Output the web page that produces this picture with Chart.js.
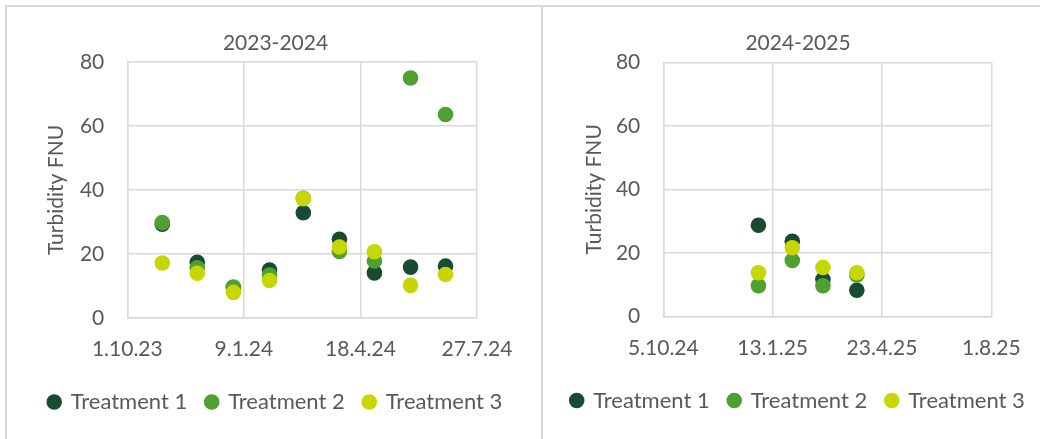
<!DOCTYPE html>
<html>
<head>
<meta charset="utf-8">
<script src="https://cdn.jsdelivr.net/npm/chart.js@4.4.1/dist/chart.umd.min.js"></script>
<style>
  html, body { margin: 0; padding: 0; background: #fff; overflow: hidden; }
  .box { position: absolute; top: 5px; height: 440px; border-top: 2px solid #d9d9d9; border-left: 2px solid #d9d9d9; }
  .wrap { position: absolute; top: 1px; }
</style>
</head>
<body>
<div class="box" style="left:5px; width:536px;">
  <div class="wrap" style="left:1px; width:535px; height:431px;"><canvas id="c1"></canvas></div>
</div>
<div class="box" style="left:541px; width:520px;">
  <div class="wrap" style="left:2px; width:506px; height:431px;"><canvas id="c2"></canvas></div>
</div>
<script>
// sampling dates (month ends) and turbidity readings, FNU
const dates2324 = ['2023-10-31', '2023-11-30', '2023-12-31', '2024-01-31', '2024-02-29',
  '2024-03-31', '2024-04-30', '2024-05-31', '2024-06-30'];
const t1_2324 = [29.3, 17.4, 9.5, 15.0, 32.9, 24.6, 14.1, 15.9, 16.2];
const t2_2324 = [29.8, 15.7, 9.7, 13.4, 37.4, 20.8, 17.8, 75.0, 63.6];
const t3_2324 = [17.2, 14.0, 8.0, 11.7, 37.3, 22.2, 20.7, 10.2, 13.6];

const dates2425 = ['2024-12-31', '2025-01-31', '2025-02-28', '2025-03-31'];
const t1_2425 = [28.7, 23.6, 11.6, 8.2];
const t2_2425 = [9.6, 17.6, 9.6, 13.0];
const t3_2425 = [13.7, 21.6, 15.4, 13.7];

// x axis ranges (first and last tick)
const range2324 = ['2023-10-01', '2024-07-27'];
const range2425 = ['2024-10-05', '2025-08-01'];

const seriesNames = ['Treatment 1', 'Treatment 2', 'Treatment 3'];
const seriesColors = ['#184a34', '#4fa031', '#c8d600'];

const FONT = 'Lato, "Open Sans", sans-serif';
const TEXT = '#595959';
const GRID = '#d9d9d9';

// Excel style day serial, so the 100-day tick spacing lines up
function serial(s) {
  const p = s.split('-');
  return Date.UTC(+p[0], +p[1] - 1, +p[2]) / 86400000 + 25569;
}
function fmtDate(v) {
  const d = new Date((v - 25569) * 86400000);
  return d.getUTCDate() + '.' + (d.getUTCMonth() + 1) + '.' + String(d.getUTCFullYear()).slice(2);
}

function makeChart(id, title, dates, series, range, lay) {
  const xs = dates.map(serial);
  const datasets = series.map(function (vals, i) {
    return {
      label: seriesNames[i],
      data: vals.map(function (v, j) { return { x: xs[j], y: v }; }),
      backgroundColor: seriesColors[i],
      borderColor: seriesColors[i],
      borderWidth: 0,
      pointRadius: 7.8,
      pointHoverRadius: 7.8,
      order: series.length - i
    };
  });

  new Chart(document.getElementById(id), {
    type: 'scatter',
    data: { datasets: datasets },
    options: {
      responsive: true,
      maintainAspectRatio: false,
      animation: false,
      layout: { padding: { left: 0, right: 0, top: 0, bottom: lay.bottom } },
      plugins: {
        tooltip: { enabled: false },
        title: {
          display: true,
          text: title,
          color: TEXT,
          font: { family: FONT, size: 21, weight: 'normal' },
          padding: { top: 22.4, bottom: lay.titleBottom }
        },
        legend: {
          position: 'bottom',
          labels: {
            usePointStyle: true,
            pointStyle: 'circle',
            boxWidth: 11,
            boxHeight: 11,
            padding: 19,
            color: TEXT,
            font: { family: FONT, size: 22 },
            sort: function (a, b) { return a.datasetIndex - b.datasetIndex; }
          }
        }
      },
      scales: {
        x: {
          type: 'linear',
          min: serial(range[0]),
          max: serial(range[1]),
          ticks: {
            stepSize: 100,
            color: TEXT,
            font: { family: FONT, size: 21 },
            padding: 19,
            maxRotation: 0,
            callback: function (v) { return fmtDate(v); }
          },
          grid: { color: GRID, lineWidth: 1.5, drawTicks: false },
          border: { color: GRID, width: 1.5 },
          afterFit: function (s) { s.height = lay.xHeight; }
        },
        y: {
          min: 0,
          max: 80,
          ticks: {
            stepSize: 20,
            color: TEXT,
            font: { family: FONT, size: 21 },
            padding: 23
          },
          grid: { color: GRID, lineWidth: 1.5, drawTicks: false },
          border: { color: GRID, width: 1.5 },
          title: {
            display: true,
            text: 'Turbidity FNU',
            color: TEXT,
            font: { family: FONT, size: 21 },
            padding: { top: lay.yTitle, bottom: 0 }
          },
          afterFit: function (s) { s.width = lay.yWidth; }
        },
        // empty right-hand axis that only reserves the gap right of the plot,
        // so the legend keeps the full chart width
        gap: {
          position: 'right',
          display: true,
          ticks: { display: false },
          grid: { display: false },
          border: { display: false },
          afterFit: function (s) { s.width = lay.right; }
        }
      }
    }
  });
}

makeChart('c1', '2023-2024', dates2324, [t1_2324, t2_2324, t3_2324], range2324,
  { right: 66, bottom: 16, titleBottom: 6.4, xHeight: 54, yWidth: 119.3, yTitle: 35.4 });
makeChart('c2', '2024-2025', dates2425, [t1_2425, t2_2425, t3_2425], range2425,
  { right: 59.7, bottom: 17.5, titleBottom: 6.7, xHeight: 54.2, yWidth: 118.3, yTitle: 36.4 });
</script>
</body>
</html>
